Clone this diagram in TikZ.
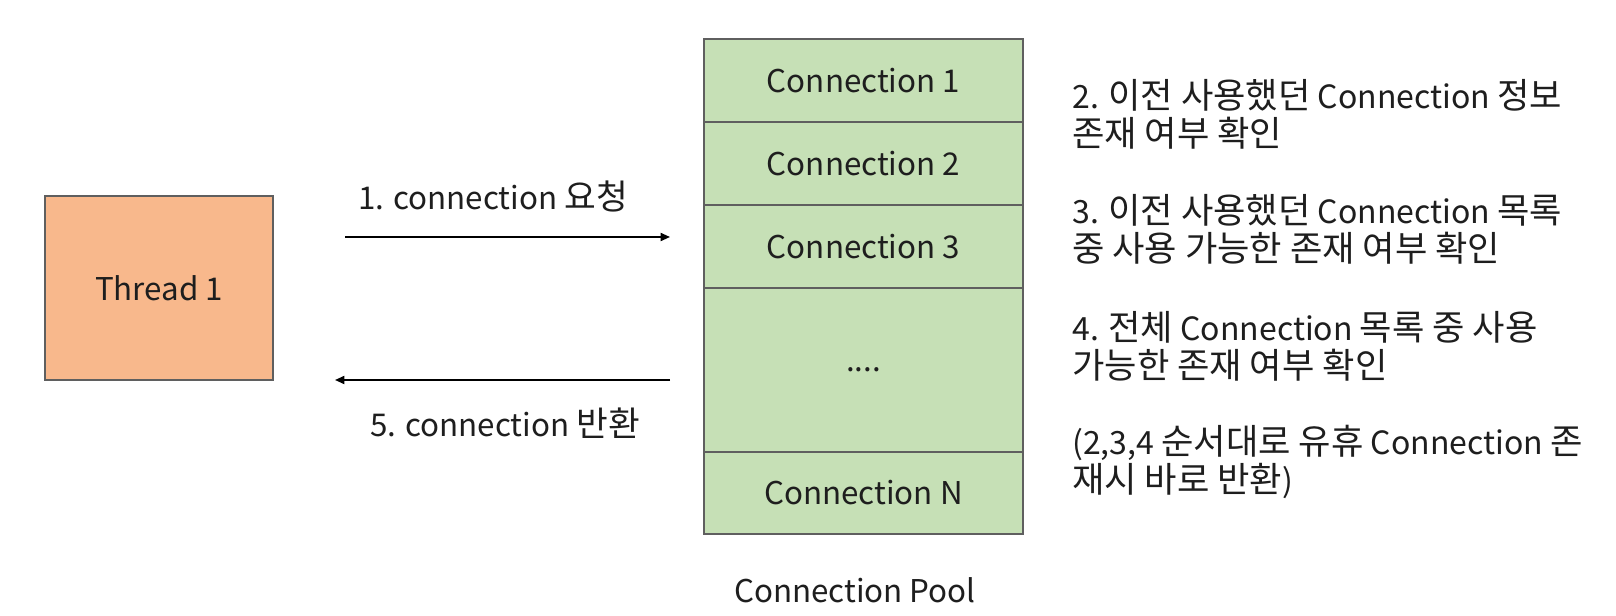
\documentclass[tikz,border=0pt]{standalone}
\usepackage{fontspec}
\setmainfont{Noto Sans CJK KR}
\newfontfamily\krfont[Scale=1.1]{Noto Sans CJK KR}
\newcommand\kr[1]{{\krfont #1}}
\usetikzlibrary{arrows.meta}
\definecolor{peach}{RGB}{248,184,140}
\definecolor{poolgreen}{RGB}{198,224,182}
\definecolor{edgegray}{RGB}{95,95,95}
\definecolor{txt}{RGB}{30,30,30}
\tikzset{
  box/.style={draw=edgegray, line width=1.1pt, inner sep=0pt, outer sep=0pt, text=txt},
  threadbox/.style={box, fill=peach, minimum width=171pt, minimum height=138pt},
  cell/.style={box, fill=poolgreen, minimum width=239.25pt},
  arr/.style={line width=1.3pt, -{Triangle[length=7pt,width=6pt]}},
  lbl/.style={inner sep=0pt, text=txt},
  note/.style={lbl, align=left, anchor=west, font=\fontsize{24}{28.5}\selectfont},
}
\begin{document}
\begin{tikzpicture}[x=0.75pt,y=-0.75pt, font=\fontsize{23.5}{28.5}\selectfont]
\useasboundingbox (0,0) rectangle (1616,616);
\fill[white] (0,0) rectangle (1616,616);

\node[threadbox] (thread) at (159,288) {Thread 1};

\node[cell, minimum height=62.25pt] (c1) at (863.5,80.5) {Connection 1};
\node[cell, minimum height=62.25pt] (c2) at (863.5,163.5) {Connection 2};
\node[cell, minimum height=62.25pt] (c3) at (863.5,246.5) {Connection 3};
\node[cell, minimum height=123pt] (cdots) at (863.5,370) {....};
\node[cell, minimum height=61.5pt] (cn) at (863.5,493) {Connection N};

\node[lbl] (pool) at (855,590) {Connection Pool};

\draw[arr, shorten <=54pt, shorten >=25.5pt] ([yshift=38.25pt]thread.east) -- ([yshift=38.25pt]thread.east -| c3.west);
\draw[arr, shorten <=25.5pt, shorten >=46.5pt] (thread.south east -| cdots.west) -- (thread.south east);

\node[lbl] (l1) at (493,196) {1. connection \kr{요청}};
\node[lbl] (l5) at (505,423) {5. connection \kr{반환}};

\node[note] (s2) at (1072,114) {2. \kr{이전 사용했던} Connection \kr{정보}\\\kr{존재 여부 확인}};
\node[note] (s3) at (1072,229) {3. \kr{이전 사용했던} Connection \kr{목록}\\\kr{중 사용 가능한 존재 여부 확인}};
\node[note] (s4) at (1072,346) {4. \kr{전체} Connection \kr{목록 중 사용}\\\kr{가능한 존재 여부 확인}};
\node[note] (s5) at (1072,462) {(2,3,4 \kr{순서대로 유휴} Connection \kr{존}\\\kr{재시 바로 반환})};
\end{tikzpicture}
\end{document}
